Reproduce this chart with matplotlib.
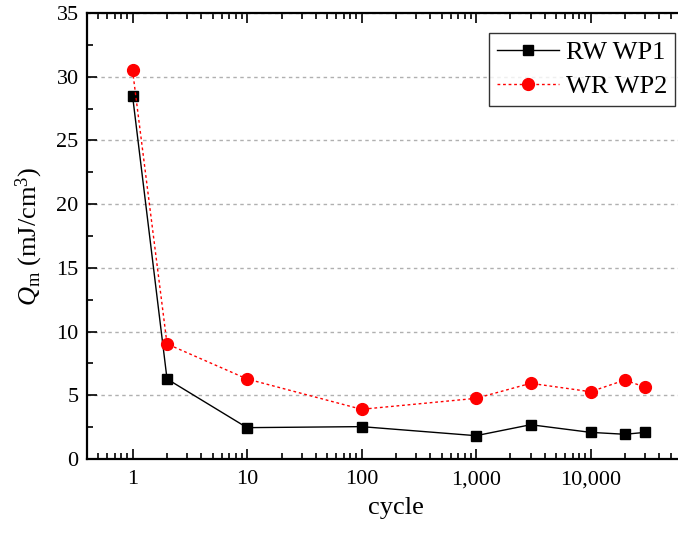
import matplotlib
matplotlib.use("Agg")
import matplotlib.pyplot as plt
from matplotlib.ticker import FixedLocator, LogLocator, NullFormatter, MultipleLocator, FuncFormatter

plt.rcParams['font.family'] = ['Liberation Serif', 'DejaVu Serif']
plt.rcParams['mathtext.fontset'] = 'custom'
plt.rcParams['mathtext.rm'] = 'Liberation Serif'
plt.rcParams['mathtext.it'] = 'Liberation Serif:italic'

# cycle counts and stored energy density for the two samples
cycles = [1, 2, 10, 100, 1000, 3000, 10000, 20000, 30000]
rw_wp1 = [28.5, 6.28, 2.46, 2.54, 1.83, 2.69, 2.09, 1.94, 2.09]
wr_wp2 = [30.5, 9.03, 6.28, 3.90, 4.76, 5.94, 5.28, 6.20, 5.63]
x_ticks = [1, 10, 100, 1000, 10000]
y_ticks = [0, 5, 10, 15, 20, 25, 30, 35]

fig = plt.figure(figsize=(6.78, 5.36), dpi=100)
ax = fig.add_axes([87 / 678, 1 - 459 / 536, 618 / 678, 446 / 536])

ax.plot(cycles, rw_wp1, color='black', lw=1.0, ls='-', marker='s', ms=7.5,
        mec='black', mfc='black', label='RW WP1', zorder=3)
ax.plot(cycles, wr_wp2, color='red', lw=1.0, ls=(0, (2, 2)), marker='o', ms=8.5,
        mec='red', mfc='red', label='WR WP2', zorder=3)

ax.set_xscale('log')
ax.set_xlim(0.4, 1e5)
ax.set_ylim(0, 35)

ax.xaxis.set_major_locator(FixedLocator(x_ticks))
ax.xaxis.set_major_formatter(FuncFormatter(lambda v, p: f"{int(round(v)):,}"))
ax.xaxis.set_minor_locator(LogLocator(base=10, subs=range(2, 10), numticks=20))
ax.xaxis.set_minor_formatter(NullFormatter())
ax.yaxis.set_major_locator(FixedLocator(y_ticks))
ax.yaxis.set_minor_locator(MultipleLocator(2.5))

ax.tick_params(which='both', direction='in', top=True, right=True, labelsize=16, width=1.2)
ax.tick_params(which='major', length=7)
ax.tick_params(which='minor', length=4)
ax.tick_params(axis='x', pad=8)
ax.tick_params(axis='y', pad=6)

for s in ax.spines.values():
    s.set_linewidth(1.6)

ax.yaxis.grid(True, which='major', color='#b0b0b0', ls=(0, (2.5, 2.5)), lw=1.0)
ax.set_axisbelow(True)

ax.set_xlabel('cycle', fontsize=19, labelpad=6)
ax.set_ylabel(r'$Q_{\rm m}$ (mJ/cm$^{3}$)', fontsize=19, labelpad=8)

leg = ax.legend(loc='upper left', bbox_to_anchor=(402 / 618, 1 - 20 / 446),
                fontsize=19, frameon=True, fancybox=False, edgecolor='black',
                handlelength=2.35, handletextpad=0.25, borderpad=0.3,
                labelspacing=0.38, borderaxespad=0)
leg.get_frame().set_linewidth(1.0)

fig.savefig('out.png', dpi=100)
